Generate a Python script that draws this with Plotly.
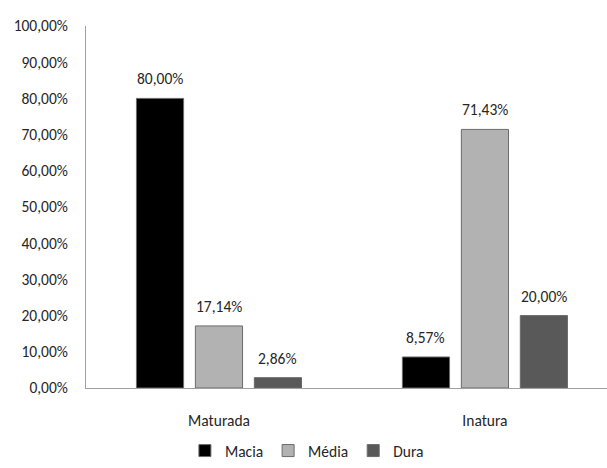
import plotly.graph_objects as go

categories = ["Maturada", "Inatura"]
series_names = ["Macia", "Média", "Dura"]
macia = [80.00, 8.57]
media = [17.14, 71.43]
dura = [2.86, 20.00]
y_ticks = [0, 10, 20, 30, 40, 50, 60, 70, 80, 90, 100]

colors = ["#000000", "#b2b2b2", "#595959"]
FONT = "Carlito, Liberation Sans, sans-serif"
FS = 15.5
TXT = "#262626"

fig = go.Figure()
all_vals = [macia, media, dura]
for name, vals, col in zip(series_names, all_vals, colors):
    fig.add_trace(go.Bar(
        x=categories, y=vals, name=name,
        marker=dict(color=col, line=dict(color="#6b6b6b", width=1)),
    ))

# data labels
slot_px = 59
for i, vals in enumerate(all_vals):
    for cat, v in zip(categories, vals):
        fig.add_annotation(
            x=cat, y=v, text=f"{v:.2f}".replace(".", ",") + "%",
            showarrow=False, xshift=(i - 1) * slot_px, yshift=8,
            yanchor="bottom", font=dict(family=FONT, size=FS, color=TXT),
        )

fig.update_layout(
    width=607, height=468,
    margin=dict(l=86, r=0, t=26, b=80, autoexpand=False),
    paper_bgcolor="white", plot_bgcolor="white",
    separators=",.",
    barmode="group", bargap=0.335, bargroupgap=0.2,
    font=dict(family=FONT, size=FS, color=TXT),
    showlegend=True,
    legend=dict(orientation="h", x=0.424, xanchor="center",
                yref="container", y=0.0, yanchor="bottom",
                font=dict(family=FONT, size=FS, color=TXT),
                itemwidth=30, tracegroupgap=0),
    xaxis=dict(range=[-0.5, 1.459], showline=True, linecolor="#a0a0a0", linewidth=1,
               ticks="", showgrid=False, zeroline=False, ticklabelstandoff=18,
               automargin=False,
               tickfont=dict(family=FONT, size=FS, color=TXT)),
    yaxis=dict(range=[0, 100], tickvals=y_ticks,
               ticktext=[f"{t:.2f}".replace(".", ",") + "%" for t in y_ticks],
               showline=True, linecolor="#a0a0a0", linewidth=1,
               ticks="", ticklen=0, showgrid=False, zeroline=False,
               ticklabelstandoff=14, automargin=False,
               tickfont=dict(family=FONT, size=FS, color=TXT)),
)
fig.write_html("out.html")
